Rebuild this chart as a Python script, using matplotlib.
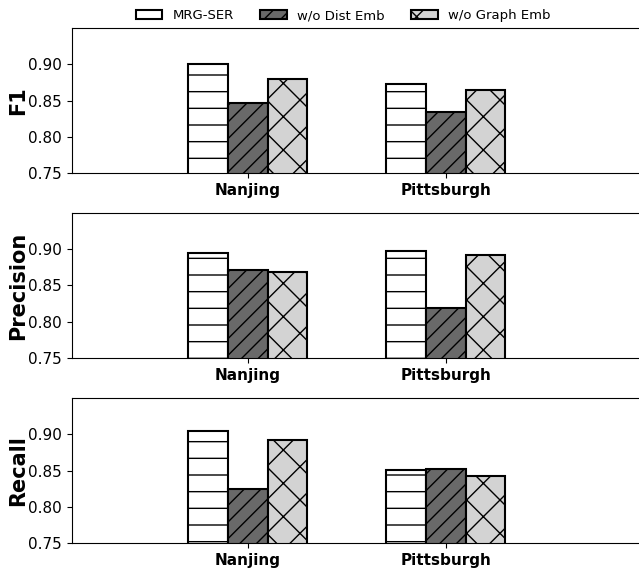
import matplotlib
matplotlib.use('Agg')
import matplotlib.pyplot as plt
import numpy as np

cities = ['Nanjing', 'Pittsburgh']
methods = ['MRG-SER', 'w/o Dist Emb', 'w/o Graph Emb']
metrics = ['F1', 'Precision', 'Recall']

# values per method, [Nanjing, Pittsburgh]
f1_mrg = [0.900, 0.873]
f1_dist = [0.847, 0.834]
f1_graph = [0.880, 0.865]

prec_mrg = [0.894, 0.898]
prec_dist = [0.871, 0.819]
prec_graph = [0.869, 0.892]

rec_mrg = [0.905, 0.851]
rec_dist = [0.825, 0.852]
rec_graph = [0.892, 0.843]

yticks = [0.75, 0.80, 0.85, 0.90]

data = {
    'F1': [f1_mrg, f1_dist, f1_graph],
    'Precision': [prec_mrg, prec_dist, prec_graph],
    'Recall': [rec_mrg, rec_dist, rec_graph],
}

colors = ['white', '#696969', '#d3d3d3']
hatches = ['-', '//', 'x']

plt.rcParams['hatch.linewidth'] = 1.0

fig = plt.figure(figsize=(6.39, 5.75), dpi=100)

# axes rectangles in figure fractions (left, bottom, width, height)
rects = [
    (0.1119, 0.699, 0.8955, 0.252),
    (0.1119, 0.377, 0.8955, 0.253),
    (0.1119, 0.0557, 0.8955, 0.252),
]

bar_width = 0.2
x = np.arange(len(cities))
handles = []
for rect, metric in zip(rects, metrics):
    ax = fig.add_axes(rect)
    for i, vals in enumerate(data[metric]):
        bars = ax.bar(x + (i - 1) * bar_width, vals, width=bar_width,
                      color=colors[i], edgecolor='black', hatch=hatches[i],
                      linewidth=1.5, label=methods[i])
        if metric == 'F1':
            handles.append(bars)
    ax.set_ylim(0.75, 0.95)
    ax.set_xlim(-0.89, 2.0)
    ax.set_yticks(yticks)
    ax.set_yticklabels([f'{t:.2f}' for t in yticks], fontsize=11)
    ax.set_xticks(x)
    ax.set_xticklabels(cities, fontsize=11, fontweight='bold')
    ax.set_ylabel(metric, fontsize=15, fontweight='bold', labelpad=0)

fig.legend(handles=handles, labels=methods, loc='center', ncol=3,
           frameon=False, fontsize=9.5, bbox_to_anchor=(0.537, 0.973))

fig.savefig('out.png', dpi=100)
